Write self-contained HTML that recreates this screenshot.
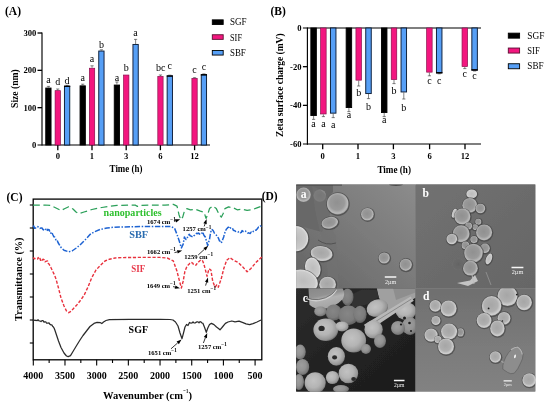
<!DOCTYPE html>
<html><head><meta charset="utf-8"><title>Figure</title>
<style>
html,body{margin:0;padding:0;background:#fff;}
body{width:550px;height:407px;overflow:hidden;font-family:"Liberation Serif",serif;}
svg{display:block;position:absolute;left:0;top:0;}
text{font-family:"Liberation Serif",serif;fill:#000;}
.b{font-weight:bold;}
</style></head><body>
<svg width="550" height="407" viewBox="0 0 550 407">
<rect x="0" y="0" width="550" height="407" fill="#fff"/>
<defs><filter id="gs" x="0" y="0" width="550" height="407" filterUnits="userSpaceOnUse"><feGaussianBlur stdDeviation="0.32"/></filter></defs>

<g id="panelA" filter="url(#gs)">
<text class="b" x="5" y="14.5" font-size="11.5">(A)</text>
<line x1="42.0" y1="32.5" x2="42.0" y2="145.6" stroke="#000" stroke-width="1.15"/>
<line x1="37.5" y1="145.0" x2="210" y2="145.0" stroke="#000" stroke-width="1.15"/>
<line x1="37.5" y1="107.67" x2="42.0" y2="107.67" stroke="#000" stroke-width="1.3"/>
<line x1="37.5" y1="70.34" x2="42.0" y2="70.34" stroke="#000" stroke-width="1.3"/>
<line x1="37.5" y1="33.01" x2="42.0" y2="33.01" stroke="#000" stroke-width="1.3"/>
<text class="b" x="36.3" y="147.90" font-size="8.6" text-anchor="end">0</text>
<text class="b" x="36.3" y="110.57" font-size="8.6" text-anchor="end">100</text>
<text class="b" x="36.3" y="73.24" font-size="8.6" text-anchor="end">200</text>
<text class="b" x="36.3" y="35.91" font-size="8.6" text-anchor="end">300</text>
<text class="b" font-size="9.6" text-anchor="middle" transform="translate(18.3,88.6) rotate(-90)">Size (nm)</text>
<line x1="57.8" y1="145.0" x2="57.8" y2="150.2" stroke="#000" stroke-width="1.3"/>
<text class="b" x="57.8" y="158.9" font-size="8.6" text-anchor="middle">0</text>
<line x1="92.0" y1="145.0" x2="92.0" y2="150.2" stroke="#000" stroke-width="1.3"/>
<text class="b" x="92.0" y="158.9" font-size="8.6" text-anchor="middle">1</text>
<line x1="126.2" y1="145.0" x2="126.2" y2="150.2" stroke="#000" stroke-width="1.3"/>
<text class="b" x="126.2" y="158.9" font-size="8.6" text-anchor="middle">3</text>
<line x1="160.4" y1="145.0" x2="160.4" y2="150.2" stroke="#000" stroke-width="1.3"/>
<text class="b" x="160.4" y="158.9" font-size="8.6" text-anchor="middle">6</text>
<line x1="194.6" y1="145.0" x2="194.6" y2="150.2" stroke="#000" stroke-width="1.3"/>
<text class="b" x="194.6" y="158.9" font-size="8.6" text-anchor="middle">12</text>
<text class="b" x="109.6" y="172.0" font-size="9.6" textLength="32.8" lengthAdjust="spacingAndGlyphs">Time (h)</text>
<rect x="45.75" y="88.05" width="5.30" height="56.95" fill="#000" stroke="#000" stroke-width="0.9"/>
<path d="M48.40 87.60V86.40M46.80 86.40H50.00" stroke="#333" stroke-width="0.6" fill="none"/>
<text x="48.40" y="83.30" font-size="10" text-anchor="middle">a</text>
<rect x="55.10" y="90.65" width="5.30" height="54.35" fill="#f3187f" stroke="#8a0e4c" stroke-width="0.7"/>
<path d="M57.75 90.20V89.00M56.15 89.00H59.35" stroke="#333" stroke-width="0.6" fill="none"/>
<text x="57.75" y="85.40" font-size="10" text-anchor="middle">d</text>
<rect x="64.45" y="86.35" width="5.30" height="58.65" fill="#579ff6" stroke="#0c1c36" stroke-width="0.95"/>
<path d="M67.10 85.90V85.30M65.50 85.30H68.70" stroke="#333" stroke-width="0.6" fill="none"/>
<rect x="64.00" y="85.60" width="6.20" height="1.4" fill="#000"/>
<text x="67.10" y="83.80" font-size="10" text-anchor="middle">d</text>
<rect x="80.05" y="85.85" width="5.30" height="59.15" fill="#000" stroke="#000" stroke-width="0.9"/>
<path d="M82.70 85.40V84.20M81.10 84.20H84.30" stroke="#333" stroke-width="0.6" fill="none"/>
<text x="82.70" y="81.00" font-size="10" text-anchor="middle">a</text>
<rect x="89.40" y="68.25" width="5.30" height="76.75" fill="#f3187f" stroke="#8a0e4c" stroke-width="0.7"/>
<path d="M92.05 67.80V65.80M90.45 65.80H93.65" stroke="#333" stroke-width="0.6" fill="none"/>
<text x="92.05" y="62.30" font-size="10" text-anchor="middle">a</text>
<rect x="98.75" y="51.05" width="5.30" height="93.95" fill="#579ff6" stroke="#0c1c36" stroke-width="0.95"/>
<path d="M101.40 50.60V49.80M99.80 49.80H103.00" stroke="#333" stroke-width="0.6" fill="none"/>
<text x="101.40" y="48.00" font-size="10" text-anchor="middle">b</text>
<rect x="114.25" y="85.05" width="5.30" height="59.95" fill="#000" stroke="#000" stroke-width="0.9"/>
<path d="M116.90 84.60V82.00M115.30 82.00H118.50" stroke="#333" stroke-width="0.6" fill="none"/>
<text x="116.90" y="80.60" font-size="10" text-anchor="middle">a</text>
<rect x="123.60" y="75.05" width="5.30" height="69.95" fill="#f3187f" stroke="#8a0e4c" stroke-width="0.7"/>
<text x="126.25" y="71.40" font-size="10" text-anchor="middle">b</text>
<rect x="132.95" y="44.45" width="5.30" height="100.55" fill="#579ff6" stroke="#0c1c36" stroke-width="0.95"/>
<path d="M135.60 44.00V39.40M134.00 39.40H137.20" stroke="#333" stroke-width="0.6" fill="none"/>
<text x="135.60" y="35.60" font-size="10" text-anchor="middle">a</text>
<rect x="157.80" y="76.45" width="5.30" height="68.55" fill="#f3187f" stroke="#8a0e4c" stroke-width="0.7"/>
<path d="M160.45 76.00V75.00M158.85 75.00H162.05" stroke="#333" stroke-width="0.6" fill="none"/>
<text x="160.65" y="70.60" font-size="10" text-anchor="middle">bc</text>
<rect x="167.15" y="76.05" width="5.30" height="68.95" fill="#579ff6" stroke="#0c1c36" stroke-width="0.95"/>
<path d="M169.80 75.60V75.20M168.20 75.20H171.40" stroke="#333" stroke-width="0.6" fill="none"/>
<rect x="166.70" y="75.30" width="6.20" height="1.4" fill="#000"/>
<text x="169.80" y="69.40" font-size="10" text-anchor="middle">c</text>
<rect x="191.90" y="78.45" width="5.30" height="66.55" fill="#f3187f" stroke="#8a0e4c" stroke-width="0.7"/>
<path d="M194.55 78.00V77.70M192.95 77.70H196.15" stroke="#333" stroke-width="0.6" fill="none"/>
<text x="194.55" y="73.00" font-size="10" text-anchor="middle">c</text>
<rect x="201.25" y="74.85" width="5.30" height="70.15" fill="#579ff6" stroke="#0c1c36" stroke-width="0.95"/>
<path d="M203.90 74.40V73.90M202.30 73.90H205.50" stroke="#333" stroke-width="0.6" fill="none"/>
<rect x="200.80" y="74.10" width="6.20" height="1.4" fill="#000"/>
<text x="203.90" y="70.00" font-size="10" text-anchor="middle">c</text>
<rect x="212.29999999999998" y="19.85" width="10.9" height="4.6" fill="#000" stroke="#000" stroke-width="0.9"/>
<text x="230" y="25.30" font-size="10.7" textLength="16.6" lengthAdjust="spacingAndGlyphs">SGF</text>
<rect x="212.29999999999998" y="34.75" width="10.9" height="4.6" fill="#f3187f" stroke="#5a0a30" stroke-width="0.9"/>
<text x="230" y="40.60" font-size="10.7" textLength="12.0" lengthAdjust="spacingAndGlyphs">SIF</text>
<rect x="212.29999999999998" y="50.45" width="10.9" height="4.6" fill="#579ff6" stroke="#000" stroke-width="0.9"/>
<text x="230" y="55.90" font-size="10.7" textLength="15.8" lengthAdjust="spacingAndGlyphs">SBF</text>
</g>
<g id="panelB" filter="url(#gs)">
<text class="b" x="270.5" y="14.5" font-size="11.5">(B)</text>
<line x1="307.4" y1="27.4" x2="307.4" y2="144.64" stroke="#000" stroke-width="1.15"/>
<line x1="302.9" y1="28.0" x2="481" y2="28.0" stroke="#000" stroke-width="1.15"/>
<line x1="302.9" y1="144.04" x2="481" y2="144.04" stroke="#000" stroke-width="1.15"/>
<line x1="302.9" y1="66.68" x2="307.4" y2="66.68" stroke="#000" stroke-width="1.3"/>
<line x1="302.9" y1="105.36" x2="307.4" y2="105.36" stroke="#000" stroke-width="1.3"/>
<text class="b" x="301.5" y="30.90" font-size="8.6" text-anchor="end">0</text>
<text class="b" x="301.5" y="69.58" font-size="8.6" text-anchor="end">-20</text>
<text class="b" x="301.5" y="108.26" font-size="8.6" text-anchor="end">-40</text>
<text class="b" x="301.5" y="146.94" font-size="8.6" text-anchor="end">-60</text>
<text class="b" font-size="9.5" text-anchor="middle" transform="translate(283.3,85.2) rotate(-90)" textLength="103.5" lengthAdjust="spacingAndGlyphs">Zeta surface charge (mV)</text>
<line x1="322.7" y1="144.04" x2="322.7" y2="149.23999999999998" stroke="#000" stroke-width="1.3"/>
<text class="b" x="322.7" y="158.9" font-size="8.6" text-anchor="middle">0</text>
<line x1="358.0" y1="144.04" x2="358.0" y2="149.23999999999998" stroke="#000" stroke-width="1.3"/>
<text class="b" x="358.0" y="158.9" font-size="8.6" text-anchor="middle">1</text>
<line x1="393.4" y1="144.04" x2="393.4" y2="149.23999999999998" stroke="#000" stroke-width="1.3"/>
<text class="b" x="393.4" y="158.9" font-size="8.6" text-anchor="middle">3</text>
<line x1="429.6" y1="144.04" x2="429.6" y2="149.23999999999998" stroke="#000" stroke-width="1.3"/>
<text class="b" x="429.6" y="158.9" font-size="8.6" text-anchor="middle">6</text>
<line x1="465.0" y1="144.04" x2="465.0" y2="149.23999999999998" stroke="#000" stroke-width="1.3"/>
<text class="b" x="465.0" y="158.9" font-size="8.6" text-anchor="middle">12</text>
<text class="b" x="377.4" y="172.8" font-size="9.6" textLength="33.6" lengthAdjust="spacingAndGlyphs">Time (h)</text>
<rect x="310.85" y="28.00" width="5.50" height="87.55" fill="#000" stroke="#000" stroke-width="0.9"/>
<path d="M313.60 116.00V119.40M312.00 119.40H315.20" stroke="#333" stroke-width="0.6" fill="none"/>
<text x="313.60" y="127.00" font-size="10" text-anchor="middle">a</text>
<rect x="320.65" y="28.00" width="5.50" height="85.95" fill="#f3187f" stroke="#8a0e4c" stroke-width="0.7"/>
<path d="M323.40 114.40V116.60M321.80 116.60H325.00" stroke="#333" stroke-width="0.6" fill="none"/>
<text x="323.40" y="127.00" font-size="10" text-anchor="middle">a</text>
<rect x="330.45" y="28.00" width="5.50" height="85.15" fill="#579ff6" stroke="#0c1c36" stroke-width="0.95"/>
<path d="M333.20 113.60V117.60M331.60 117.60H334.80" stroke="#333" stroke-width="0.6" fill="none"/>
<text x="333.20" y="128.00" font-size="10" text-anchor="middle">a</text>
<rect x="346.15" y="28.00" width="5.50" height="79.55" fill="#000" stroke="#000" stroke-width="0.9"/>
<path d="M348.90 108.00V111.60M347.30 111.60H350.50" stroke="#333" stroke-width="0.6" fill="none"/>
<text x="348.90" y="118.40" font-size="10" text-anchor="middle">a</text>
<rect x="355.95" y="28.00" width="5.50" height="52.15" fill="#f3187f" stroke="#8a0e4c" stroke-width="0.7"/>
<path d="M358.70 80.60V86.00M357.10 86.00H360.30" stroke="#333" stroke-width="0.6" fill="none"/>
<text x="358.70" y="95.60" font-size="10" text-anchor="middle">b</text>
<rect x="365.75" y="28.00" width="5.50" height="65.55" fill="#579ff6" stroke="#0c1c36" stroke-width="0.95"/>
<path d="M368.50 94.00V98.60M366.90 98.60H370.10" stroke="#333" stroke-width="0.6" fill="none"/>
<text x="368.50" y="109.60" font-size="10" text-anchor="middle">b</text>
<rect x="381.45" y="28.00" width="5.50" height="84.55" fill="#000" stroke="#000" stroke-width="0.9"/>
<path d="M384.20 113.00V116.60M382.60 116.60H385.80" stroke="#333" stroke-width="0.6" fill="none"/>
<text x="384.20" y="123.00" font-size="10" text-anchor="middle">a</text>
<rect x="391.25" y="28.00" width="5.50" height="51.55" fill="#f3187f" stroke="#8a0e4c" stroke-width="0.7"/>
<path d="M394.00 80.00V83.60M392.40 83.60H395.60" stroke="#333" stroke-width="0.6" fill="none"/>
<text x="394.00" y="93.60" font-size="10" text-anchor="middle">b</text>
<rect x="401.05" y="28.00" width="5.50" height="63.95" fill="#579ff6" stroke="#0c1c36" stroke-width="0.95"/>
<path d="M403.80 92.40V99.00M402.20 99.00H405.40" stroke="#333" stroke-width="0.6" fill="none"/>
<text x="403.80" y="111.00" font-size="10" text-anchor="middle">b</text>
<rect x="426.65" y="28.00" width="5.50" height="44.15" fill="#f3187f" stroke="#8a0e4c" stroke-width="0.7"/>
<path d="M429.40 72.60V75.80M427.80 75.80H431.00" stroke="#333" stroke-width="0.6" fill="none"/>
<text x="429.40" y="83.50" font-size="10" text-anchor="middle">c</text>
<rect x="436.45" y="28.00" width="5.50" height="44.75" fill="#579ff6" stroke="#0c1c36" stroke-width="0.95"/>
<path d="M439.20 73.20V73.80M437.60 73.80H440.80" stroke="#333" stroke-width="0.6" fill="none"/>
<rect x="436.00" y="72.00" width="6.40" height="1.5" fill="#000"/>
<text x="439.20" y="83.50" font-size="10" text-anchor="middle">c</text>
<rect x="462.05" y="28.00" width="5.50" height="38.55" fill="#f3187f" stroke="#8a0e4c" stroke-width="0.7"/>
<path d="M464.80 67.00V68.60M463.20 68.60H466.40" stroke="#333" stroke-width="0.6" fill="none"/>
<text x="464.80" y="77.20" font-size="10" text-anchor="middle">c</text>
<rect x="471.85" y="28.00" width="5.50" height="41.95" fill="#579ff6" stroke="#0c1c36" stroke-width="0.95"/>
<path d="M474.60 70.40V71.00M473.00 71.00H476.20" stroke="#333" stroke-width="0.6" fill="none"/>
<rect x="471.40" y="69.20" width="6.40" height="1.5" fill="#000"/>
<text x="474.60" y="78.90" font-size="10" text-anchor="middle">c</text>
<rect x="508.3" y="33.15" width="11.3" height="5.0" fill="#000" stroke="#000" stroke-width="0.9"/>
<text x="527.3" y="38.60" font-size="10.7" textLength="17.1" lengthAdjust="spacingAndGlyphs">SGF</text>
<rect x="508.3" y="48.05" width="11.3" height="5.0" fill="#f3187f" stroke="#5a0a30" stroke-width="0.9"/>
<text x="527.3" y="53.90" font-size="10.7" textLength="12.4" lengthAdjust="spacingAndGlyphs">SIF</text>
<rect x="508.3" y="63.75" width="11.3" height="5.0" fill="#579ff6" stroke="#000" stroke-width="0.9"/>
<text x="527.3" y="69.20" font-size="10.7" textLength="16.3" lengthAdjust="spacingAndGlyphs">SBF</text>
</g>
<g id="panelC" filter="url(#gs)">
<text class="b" x="6.5" y="201.3" font-size="11.5">(C)</text>
<rect x="33.2" y="199.1" width="228.60000000000002" height="160.70000000000002" fill="none" stroke="#000" stroke-width="1.3"/>
<line x1="29.800000000000004" y1="205" x2="33.2" y2="205" stroke="#000" stroke-width="1.1"/>
<line x1="29.800000000000004" y1="228" x2="33.2" y2="228" stroke="#000" stroke-width="1.1"/>
<line x1="29.800000000000004" y1="251" x2="33.2" y2="251" stroke="#000" stroke-width="1.1"/>
<line x1="29.800000000000004" y1="274" x2="33.2" y2="274" stroke="#000" stroke-width="1.1"/>
<line x1="29.800000000000004" y1="297" x2="33.2" y2="297" stroke="#000" stroke-width="1.1"/>
<line x1="29.800000000000004" y1="320" x2="33.2" y2="320" stroke="#000" stroke-width="1.1"/>
<line x1="29.800000000000004" y1="343" x2="33.2" y2="343" stroke="#000" stroke-width="1.1"/>
<line x1="33.30" y1="359.8" x2="33.30" y2="365.40000000000003" stroke="#000" stroke-width="1.1"/>
<text class="b" x="33.30" y="379.2" font-size="10" text-anchor="middle">4000</text>
<line x1="49.14" y1="359.8" x2="49.14" y2="363.0" stroke="#000" stroke-width="1.1"/>
<line x1="64.98" y1="359.8" x2="64.98" y2="365.40000000000003" stroke="#000" stroke-width="1.1"/>
<text class="b" x="64.98" y="379.2" font-size="10" text-anchor="middle">3500</text>
<line x1="80.83" y1="359.8" x2="80.83" y2="363.0" stroke="#000" stroke-width="1.1"/>
<line x1="96.67" y1="359.8" x2="96.67" y2="365.40000000000003" stroke="#000" stroke-width="1.1"/>
<text class="b" x="96.67" y="379.2" font-size="10" text-anchor="middle">3000</text>
<line x1="112.51" y1="359.8" x2="112.51" y2="363.0" stroke="#000" stroke-width="1.1"/>
<line x1="128.35" y1="359.8" x2="128.35" y2="365.40000000000003" stroke="#000" stroke-width="1.1"/>
<text class="b" x="128.35" y="379.2" font-size="10" text-anchor="middle">2500</text>
<line x1="144.20" y1="359.8" x2="144.20" y2="363.0" stroke="#000" stroke-width="1.1"/>
<line x1="160.04" y1="359.8" x2="160.04" y2="365.40000000000003" stroke="#000" stroke-width="1.1"/>
<text class="b" x="160.04" y="379.2" font-size="10" text-anchor="middle">2000</text>
<line x1="175.88" y1="359.8" x2="175.88" y2="363.0" stroke="#000" stroke-width="1.1"/>
<line x1="191.72" y1="359.8" x2="191.72" y2="365.40000000000003" stroke="#000" stroke-width="1.1"/>
<text class="b" x="191.72" y="379.2" font-size="10" text-anchor="middle">1500</text>
<line x1="207.57" y1="359.8" x2="207.57" y2="363.0" stroke="#000" stroke-width="1.1"/>
<line x1="223.41" y1="359.8" x2="223.41" y2="365.40000000000003" stroke="#000" stroke-width="1.1"/>
<text class="b" x="223.41" y="379.2" font-size="10" text-anchor="middle">1000</text>
<line x1="239.25" y1="359.8" x2="239.25" y2="363.0" stroke="#000" stroke-width="1.1"/>
<line x1="255.09" y1="359.8" x2="255.09" y2="365.40000000000003" stroke="#000" stroke-width="1.1"/>
<text class="b" x="255.09" y="379.2" font-size="10" text-anchor="middle">500</text>
<text class="b" font-size="10.6" text-anchor="middle" transform="translate(22.1,279.2) rotate(-90)" textLength="83.4" lengthAdjust="spacingAndGlyphs">Transmittance (%)</text>
<text class="b" x="103" y="398.9" font-size="10.6" textLength="80" lengthAdjust="spacingAndGlyphs">Wavenumber (cm</text>
<text class="b" x="183.3" y="392.6" font-size="6.6" textLength="5" lengthAdjust="spacingAndGlyphs">−1</text>
<text class="b" x="188.6" y="398.9" font-size="10.6">)</text>
<path d="M33.0 205.0 L45.0 205.0 L51.0 205.4 L56.0 208.0 L61.0 210.5 L65.0 208.5 L68.7 206.7 L73.0 209.0 L76.0 212.0 L79.0 213.6 L84.0 212.0 L92.0 209.5 L101.8 207.5 L110.0 206.2 L117.0 205.4 L135.0 205.0 L137.4 206.4 L140.0 205.4 L150.0 205.2 L165.0 205.2 L173.3 204.4 L177.0 206.1 L179.0 214.7 L180.7 219.7 L182.7 217.2 L184.4 211.1 L186.9 208.6 L190.5 209.8 L195.5 209.3 L200.4 211.1 L204.1 212.3 L206.0 218.4 L207.7 214.7 L209.5 208.6 L212.7 206.1 L216.3 208.6 L219.3 214.7 L221.3 217.2 L223.2 213.5 L224.9 208.6 L228.6 206.9 L233.5 207.9 L237.2 209.8 L242.1 209.3 L247.1 210.3 L252.0 209.8 L256.9 207.9 L261.8 206.1" fill="none" stroke="#2a9f58" stroke-width="1.25" stroke-linejoin="round" stroke-dasharray="6.8 3.6"/>
<path d="M33.0 227.0 L33.8 226.1 L34.5 228.3 L35.2 228.2 L36.0 227.6 L37.0 226.5 L38.0 226.8 L39.0 227.6 L40.0 228.4 L41.0 228.0 L42.0 228.0 L43.0 229.5 L44.0 230.0 L44.9 230.5 L45.8 229.2 L47.0 231.0 L47.8 229.3 L48.5 230.0 L49.2 229.8 L50.0 232.5 L50.8 233.3 L51.5 232.0 L52.2 233.3 L53.0 235.0 L53.9 236.8 L54.7 237.0 L56.0 240.0 L57.0 239.8 L58.0 242.5 L61.0 247.4 L64.0 250.2 L68.7 251.8 L72.0 251.0 L76.3 248.0 L80.0 245.0 L83.0 242.0 L86.5 238.5 L90.0 234.5 L94.0 232.0 L100.0 229.5 L107.0 228.0 L113.0 227.3 L119.6 227.0 L140.0 226.6 L160.0 226.6 L170.9 226.5 L174.6 228.3 L177.0 234.4 L179.5 241.8 L181.4 247.9 L183.2 244.2 L184.4 236.9 L185.2 238.6 L186.1 239.4 L186.9 239.3 L187.7 236.8 L188.5 235.2 L189.3 234.4 L190.2 235.7 L191.2 236.1 L192.1 236.6 L193.0 236.9 L193.9 235.6 L194.8 235.3 L195.8 234.3 L196.7 233.2 L197.6 233.7 L198.6 233.1 L199.5 234.0 L200.4 234.4 L201.2 233.4 L202.0 233.2 L202.8 231.9 L203.6 234.6 L204.5 236.1 L205.3 236.9 L206.5 241.3 L207.7 245.5 L208.6 242.3 L209.5 239.3 L210.4 233.9 L211.4 229.5 L212.4 229.8 L213.4 231.0 L214.4 233.2 L215.5 234.4 L216.5 235.3 L217.6 236.9 L218.5 238.2 L219.4 240.7 L220.4 241.5 L221.3 243.0 L222.5 240.1 L223.7 236.9 L224.5 233.9 L225.4 231.0 L226.2 229.5 L227.1 228.4 L228.1 227.3 L229.0 227.3 L229.9 226.5 L230.7 228.2 L231.5 228.2 L232.4 228.0 L233.2 230.1 L234.0 230.6 L234.8 230.7 L235.6 231.4 L236.4 231.9 L237.2 231.8 L238.1 232.1 L238.9 231.4 L239.7 231.9 L240.5 232.7 L241.3 232.4 L242.1 230.6 L243.0 231.6 L243.8 231.3 L244.6 230.7 L245.4 231.0 L246.2 231.6 L247.1 231.9 L247.9 233.2 L248.7 232.8 L249.5 233.2 L250.3 233.4 L251.1 232.1 L251.9 232.7 L252.8 232.3 L253.6 231.0 L254.4 230.7 L255.2 230.2 L256.0 230.3 L256.9 229.3 L257.7 228.2 L258.5 227.1 L259.3 227.0 L260.1 226.0 L261.0 226.1 L261.8 225.1" fill="none" stroke="#1f63d2" stroke-width="1.5" stroke-linejoin="round" stroke-dasharray="5.4 1.6 1.5 1.6"/>
<path d="M33.0 258.4 L33.8 257.9 L34.5 258.8 L35.2 258.5 L36.0 259.0 L36.8 259.2 L37.5 259.1 L38.2 257.6 L39.0 258.6 L39.8 257.7 L40.5 260.3 L41.2 259.2 L42.0 260.2 L43.0 259.2 L44.0 259.6 L44.9 261.8 L45.8 261.4 L46.6 261.1 L47.5 261.0 L48.2 263.4 L49.0 264.0 L50.0 265.8 L51.0 267.8 L53.0 272.0 L54.5 275.0 L56.0 279.0 L58.5 288.0 L61.0 298.0 L64.0 306.0 L66.5 311.0 L68.7 312.7 L71.0 311.4 L73.5 308.5 L76.3 305.6 L80.0 301.0 L84.0 295.4 L88.0 287.0 L91.6 278.0 L96.0 270.0 L101.8 264.0 L105.0 261.0 L109.4 259.2 L115.0 258.0 L122.0 257.6 L140.0 257.4 L160.0 257.4 L167.2 258.0 L173.3 260.9 L177.0 271.3 L179.5 281.1 L181.4 288.0 L183.2 281.1 L184.9 271.3 L186.0 268.7 L187.0 266.3 L188.1 265.1 L189.0 264.3 L189.9 263.1 L190.9 262.3 L191.8 262.7 L192.7 263.1 L193.7 264.8 L194.6 265.2 L195.5 265.1 L196.4 264.8 L197.3 262.6 L198.2 262.4 L199.1 261.4 L200.1 260.5 L201.1 259.9 L202.1 260.2 L202.9 261.4 L203.7 263.6 L204.5 266.3 L207.0 276.2 L209.0 268.8 L210.9 270.0 L212.7 281.1 L215.1 287.2 L216.8 284.8 L218.3 287.2 L221.3 278.6 L223.7 268.8 L226.7 260.2 L229.9 257.7 L233.5 260.2 L238.5 262.7 L243.4 267.6 L247.1 271.7 L250.7 268.8 L255.7 262.7 L261.8 257.0" fill="none" stroke="#e8303c" stroke-width="1.4" stroke-linejoin="round" stroke-dasharray="3.2 1.7"/>
<path d="M33.0 319.6 L33.8 319.9 L34.5 320.3 L35.2 320.5 L36.0 320.2 L37.0 320.7 L38.0 319.8 L39.0 320.8 L40.0 321.0 L41.0 321.5 L42.0 320.6 L43.0 320.6 L44.0 322.2 L44.9 321.9 L45.8 321.8 L46.6 323.2 L47.5 323.2 L48.2 323.2 L49.0 322.8 L50.0 324.4 L51.0 324.8 L51.8 324.9 L52.6 326.2 L53.4 327.0 L54.2 328.3 L55.0 330.5 L56.5 335.0 L58.5 341.0 L61.0 347.5 L64.0 353.0 L66.5 356.0 L68.2 356.6 L70.5 355.6 L73.0 351.5 L76.3 346.0 L80.0 340.0 L83.0 335.5 L86.5 331.0 L90.0 326.5 L94.0 323.4 L97.0 322.4 L100.5 322.7 L101.8 323.6 L103.5 322.0 L106.0 320.5 L109.4 319.6 L130.0 319.4 L160.0 319.4 L170.0 319.5 L173.0 320.0 L175.5 322.0 L178.0 326.0 L180.0 333.0 L182.0 338.7 L183.5 333.0 L185.0 327.0 L186.5 324.5 L188.0 325.5 L189.5 322.5 L191.0 323.2 L192.0 323.0 L193.0 321.8 L194.0 322.9 L195.0 323.0 L196.0 322.4 L197.0 321.8 L198.0 321.9 L199.0 322.8 L200.0 321.6 L201.0 322.0 L202.0 323.0 L203.0 323.4 L204.6 327.5 L206.3 332.3 L207.8 328.0 L209.5 324.5 L211.4 323.4 L214.0 324.6 L216.5 327.0 L218.5 328.5 L220.0 329.8 L222.0 327.5 L225.4 323.4 L228.0 322.0 L231.8 321.0 L235.0 321.8 L239.0 321.2 L243.0 322.6 L246.0 323.8 L249.6 324.7 L253.0 323.6 L257.0 322.0 L260.0 320.5 L261.8 319.9" fill="none" stroke="#2c2c2c" stroke-width="1.25" stroke-linejoin="round"/>
<text class="b" x="103.6" y="215.7" font-size="10.2" style="fill:#2fc02f" textLength="58" lengthAdjust="spacingAndGlyphs">nanoparticles</text>
<text class="b" x="129.2" y="238.2" font-size="10.8" style="fill:#2b6cb0" textLength="19" lengthAdjust="spacingAndGlyphs">SBF</text>
<text class="b" x="131.2" y="272.0" font-size="10.8" style="fill:#e8394a" textLength="14" lengthAdjust="spacingAndGlyphs">SIF</text>
<text class="b" x="128.6" y="333.0" font-size="10.8" textLength="19.4" lengthAdjust="spacingAndGlyphs">SGF</text>
<text class="b" x="147.0" y="223.6" font-size="6.6">1674 cm<tspan dy="-2.6" font-size="5.2">−1</tspan></text>
<line x1="174.0" y1="221.4" x2="175.5" y2="220.9" stroke="#000" stroke-width="0.8"/>
<path d="M180.2 219.2L176.1 222.5L174.9 219.3Z" fill="#000"/>
<text class="b" x="182.6" y="231.4" font-size="6.6">1257 cm<tspan dy="-2.6" font-size="5.2">−1</tspan></text>
<line x1="204.2" y1="226.4" x2="205.1" y2="223.8" stroke="#000" stroke-width="0.8"/>
<path d="M206.6 219.0L206.7 224.3L203.4 223.2Z" fill="#000"/>
<text class="b" x="147.0" y="254.0" font-size="6.6">1662 cm<tspan dy="-2.6" font-size="5.2">−1</tspan></text>
<line x1="174.5" y1="252.6" x2="177.4" y2="251.9" stroke="#000" stroke-width="0.8"/>
<path d="M182.2 250.6L177.8 253.5L176.9 250.2Z" fill="#000"/>
<text class="b" x="184.3" y="259.0" font-size="6.6">1259 cm<tspan dy="-2.6" font-size="5.2">−1</tspan></text>
<line x1="198.2" y1="255.0" x2="204.5" y2="249.2" stroke="#000" stroke-width="0.8"/>
<path d="M208.2 245.8L205.7 250.4L203.4 247.9Z" fill="#000"/>
<text class="b" x="146.8" y="287.6" font-size="6.6">1649 cm<tspan dy="-2.6" font-size="5.2">−1</tspan></text>
<line x1="173.0" y1="286.6" x2="175.1" y2="287.1" stroke="#000" stroke-width="0.8"/>
<path d="M180.0 288.2L174.7 288.7L175.5 285.4Z" fill="#000"/>
<text class="b" x="187.2" y="292.6" font-size="6.6">1251 cm<tspan dy="-2.6" font-size="5.2">−1</tspan></text>
<line x1="205.6" y1="285.6" x2="206.6" y2="282.2" stroke="#000" stroke-width="0.8"/>
<path d="M208.0 277.4L208.2 282.7L205.0 281.7Z" fill="#000"/>
<text class="b" x="148.0" y="354.6" font-size="6.6">1651 cm<tspan dy="-2.6" font-size="5.2">−1</tspan></text>
<line x1="171.0" y1="348.8" x2="177.7" y2="342.9" stroke="#000" stroke-width="0.8"/>
<path d="M181.5 339.6L178.9 344.2L176.6 341.6Z" fill="#000"/>
<text class="b" x="198.0" y="348.5" font-size="6.6">1257 cm<tspan dy="-2.6" font-size="5.2">−1</tspan></text>
<line x1="203.4" y1="343.0" x2="205.4" y2="337.7" stroke="#000" stroke-width="0.8"/>
<path d="M207.2 333.0L207.0 338.3L203.8 337.1Z" fill="#000"/>
</g>
<g id="panelD" filter="url(#gs)">
<text class="b" x="261.7" y="199.5" font-size="11.5">(D)</text>
<defs>
<radialGradient id="sL" cx="0.47" cy="0.45" r="0.57"><stop offset="0" stop-color="#a6a6a6"/><stop offset="0.6" stop-color="#b0b0b0"/><stop offset="0.86" stop-color="#cfcfcf"/><stop offset="1" stop-color="#b2b2b2"/></radialGradient>
<radialGradient id="sM" cx="0.47" cy="0.45" r="0.57"><stop offset="0" stop-color="#909090"/><stop offset="0.6" stop-color="#9a9a9a"/><stop offset="0.86" stop-color="#bababa"/><stop offset="1" stop-color="#989898"/></radialGradient>
<radialGradient id="sB" cx="0.5" cy="0.5" r="0.57"><stop offset="0" stop-color="#bcbcbc"/><stop offset="0.7" stop-color="#cacaca"/><stop offset="0.92" stop-color="#e6e6e6"/><stop offset="1" stop-color="#c8c8c8"/></radialGradient>
<radialGradient id="sD" cx="0.5" cy="0.5" r="0.57"><stop offset="0" stop-color="#646464"/><stop offset="0.8" stop-color="#6a6a6a"/><stop offset="1" stop-color="#787878"/></radialGradient>
<radialGradient id="sG" cx="0.5" cy="0.5" r="0.57"><stop offset="0" stop-color="#7e7e7e"/><stop offset="0.8" stop-color="#8a8a8a"/><stop offset="1" stop-color="#9c9c9c"/></radialGradient>
<radialGradient id="cL" cx="0.42" cy="0.4" r="0.66"><stop offset="0" stop-color="#c2c2c2"/><stop offset="0.5" stop-color="#b4b4b4"/><stop offset="0.82" stop-color="#969696"/><stop offset="1" stop-color="#606060"/></radialGradient>
<radialGradient id="cM" cx="0.42" cy="0.4" r="0.66"><stop offset="0" stop-color="#9e9e9e"/><stop offset="0.5" stop-color="#939393"/><stop offset="0.82" stop-color="#7a7a7a"/><stop offset="1" stop-color="#505050"/></radialGradient>
<radialGradient id="cG" cx="0.45" cy="0.42" r="0.66"><stop offset="0" stop-color="#868686"/><stop offset="0.6" stop-color="#7c7c7c"/><stop offset="1" stop-color="#555"/></radialGradient>
<linearGradient id="swg" x1="0" y1="0" x2="0.35" y2="1"><stop offset="0" stop-color="#868686"/><stop offset="0.45" stop-color="#929292"/><stop offset="0.62" stop-color="#b2b2b2"/><stop offset="1" stop-color="#a4a4a4"/></linearGradient>
<linearGradient id="bgC" x1="0" y1="0" x2="1" y2="1"><stop offset="0" stop-color="#2e2e2e"/><stop offset="0.5" stop-color="#222222"/><stop offset="1" stop-color="#1b1b1b"/></linearGradient>
<linearGradient id="rodg" gradientUnits="userSpaceOnUse" x1="386" y1="306" x2="391" y2="313"><stop offset="0" stop-color="#b8b8b8"/><stop offset="0.55" stop-color="#a2a2a2"/><stop offset="1" stop-color="#666"/></linearGradient>
<linearGradient id="bgA" x1="0" y1="1" x2="1" y2="0"><stop offset="0" stop-color="#5e5e5e"/><stop offset="0.3" stop-color="#707070"/><stop offset="0.55" stop-color="#7b7b7b"/><stop offset="0.8" stop-color="#858585"/><stop offset="1" stop-color="#8e8e8e"/></linearGradient>
<linearGradient id="bgB" x1="0" y1="0" x2="1" y2="1"><stop offset="0" stop-color="#727272"/><stop offset="1" stop-color="#656565"/></linearGradient>
<linearGradient id="bgD" x1="0" y1="0" x2="0" y2="1"><stop offset="0" stop-color="#6e6e6e"/><stop offset="0.5" stop-color="#7a7a7a"/><stop offset="1" stop-color="#838383"/></linearGradient>
<clipPath id="cA"><rect x="296.2" y="184.5" width="119.40000000000003" height="104.0"/></clipPath>
<clipPath id="cB"><rect x="415.6" y="184.5" width="119.69999999999993" height="104.0"/></clipPath>
<clipPath id="cC"><rect x="296.2" y="288.5" width="119.40000000000003" height="103.10000000000002"/></clipPath>
<clipPath id="cD"><rect x="415.6" y="288.5" width="119.69999999999993" height="103.10000000000002"/></clipPath>
<filter id="soft" x="-5%" y="-5%" width="110%" height="110%"><feGaussianBlur stdDeviation="0.5"/></filter>
<filter id="soft2" x="-10%" y="-10%" width="120%" height="120%"><feGaussianBlur stdDeviation="1.2"/></filter>
</defs>
<g clip-path="url(#cA)">
<rect x="295.2" y="183.5" width="121.40000000000003" height="106.0" fill="#7a7a7a"/>
<g filter="url(#soft)">
<rect x="290" y="180" width="132" height="114" fill="url(#bgA)"/>
<path d="M290 180H333V192L326 200L330 214L322 232L300 226L290 228Z" fill="#676767"/>
<rect x="290" y="180" width="52" height="5.6" fill="#4a4a4a"/>
<ellipse cx="396" cy="184.4" rx="7" ry="1.6" fill="#4a4a4a"/>
<ellipse cx="319.8" cy="195.6" rx="6.2" ry="6.2" fill="url(#sG)"/>
<ellipse cx="303.6" cy="194.8" rx="7.2" ry="7.2" fill="url(#sM)"/>
<path d="M312 186Q326 190 331 205Q327 222 336 236L339 292H328Q328 250 320 232Q314 210 312 186Z" fill="#727272" opacity="0.6"/>
<path d="M318 240Q326 246 336 243" stroke="#4e4e4e" stroke-width="0.9" fill="none"/>
<ellipse cx="338.0" cy="204.1" rx="11.8" ry="11.8" fill="#3c3c3c" opacity="0.6"/>
<ellipse cx="337.7" cy="203.7" rx="10.8" ry="10.8" fill="url(#sM)"/>
<ellipse cx="367.7" cy="214.7" rx="7.3" ry="7.3" fill="#3c3c3c" opacity="0.6"/>
<ellipse cx="367.4" cy="214.3" rx="6.3" ry="6.3" fill="url(#sM)"/>
<ellipse cx="330.1" cy="223.2" rx="9.4" ry="6.8" fill="#3c3c3c" opacity="0.6" transform="rotate(-12 329.8 222.8)"/>
<ellipse cx="329.8" cy="222.8" rx="8.4" ry="5.8" fill="url(#sM)" transform="rotate(-12 329.8 222.8)"/>
<ellipse cx="296.5" cy="239.0" rx="13.0" ry="13.6" fill="#3c3c3c" opacity="0.6"/>
<ellipse cx="296.2" cy="238.6" rx="12.0" ry="12.6" fill="url(#sB)"/>
<ellipse cx="321.9" cy="254.0" rx="12.0" ry="8.4" fill="#3c3c3c" opacity="0.6" transform="rotate(8 321.6 253.6)"/>
<ellipse cx="321.6" cy="253.6" rx="11.0" ry="7.4" fill="url(#sL)" transform="rotate(8 321.6 253.6)"/>
<ellipse cx="313.1" cy="268.4" rx="8.6" ry="11.6" fill="#3c3c3c" opacity="0.6" transform="rotate(-14 312.8 268.0)"/>
<ellipse cx="312.8" cy="268.0" rx="7.6" ry="10.6" fill="url(#sB)" transform="rotate(-14 312.8 268.0)"/>
<ellipse cx="303.5" cy="281.4" rx="16.0" ry="12.0" fill="#3c3c3c" opacity="0.6" transform="rotate(20 303.2 281.0)"/>
<ellipse cx="303.2" cy="281.0" rx="15.0" ry="11.0" fill="url(#sB)" transform="rotate(20 303.2 281.0)"/>
<ellipse cx="327.9" cy="284.8" rx="9.4" ry="8.6" fill="#3c3c3c" opacity="0.6"/>
<ellipse cx="327.6" cy="284.4" rx="8.4" ry="7.6" fill="url(#sL)"/>
<ellipse cx="384.5" cy="258.4" rx="6.6" ry="6.6" fill="#3c3c3c" opacity="0.6"/>
<ellipse cx="384.2" cy="258.0" rx="5.6" ry="5.6" fill="url(#sM)"/>
<ellipse cx="406.1" cy="265.2" rx="7.1" ry="7.1" fill="#3c3c3c" opacity="0.6"/>
<ellipse cx="405.8" cy="264.8" rx="6.1" ry="6.1" fill="url(#sM)"/>
</g>
<line x1="384.8" y1="277.0" x2="396.3" y2="277.0" stroke="#f6f6f6" stroke-width="1.5"/>
<text x="390.6" y="283.8" font-size="6.4" text-anchor="middle" style="fill:#f2f2f2" textLength="11.2" lengthAdjust="spacingAndGlyphs">2µm</text>
<text class="b" x="300.8" y="198.4" font-size="11.6" style="fill:#fff">a</text>
</g>
<g clip-path="url(#cB)">
<rect x="414.6" y="183.5" width="121.69999999999993" height="106.0" fill="#6c6c6c"/>
<g filter="url(#soft)">
<rect x="410" y="180" width="132" height="114" fill="url(#bgB)"/>
<ellipse cx="458.4" cy="264.2" rx="5.8" ry="5.8" fill="url(#sD)"/>
<ellipse cx="472.0" cy="194.3" rx="6.3" ry="5.5" fill="#3c3c3c" opacity="0.6"/>
<ellipse cx="471.7" cy="193.9" rx="5.3" ry="4.5" fill="url(#sB)"/>
<ellipse cx="470.1" cy="205.7" rx="8.4" ry="8.4" fill="#3c3c3c" opacity="0.6"/>
<ellipse cx="469.8" cy="205.3" rx="7.4" ry="7.4" fill="url(#sM)"/>
<ellipse cx="480.7" cy="208.9" rx="5.8" ry="5.8" fill="#3c3c3c" opacity="0.6"/>
<ellipse cx="480.4" cy="208.5" rx="4.8" ry="4.8" fill="url(#sM)"/>
<ellipse cx="454.7" cy="213.7" rx="3.2" ry="5.6" fill="#3c3c3c" opacity="0.6" transform="rotate(20 454.4 213.3)"/>
<ellipse cx="454.4" cy="213.3" rx="2.2" ry="4.6" fill="url(#sB)" transform="rotate(20 454.4 213.3)"/>
<ellipse cx="462.7" cy="216.9" rx="9.0" ry="9.0" fill="#3c3c3c" opacity="0.6"/>
<ellipse cx="462.4" cy="216.5" rx="8.0" ry="8.0" fill="url(#sM)"/>
<ellipse cx="478.6" cy="222.2" rx="4.0" ry="4.0" fill="#3c3c3c" opacity="0.6"/>
<ellipse cx="478.3" cy="221.8" rx="3.0" ry="3.0" fill="url(#sM)"/>
<ellipse cx="475.4" cy="227.5" rx="3.8" ry="3.8" fill="#3c3c3c" opacity="0.6"/>
<ellipse cx="475.1" cy="227.1" rx="2.8" ry="2.8" fill="url(#sM)"/>
<ellipse cx="468.9" cy="226.4" rx="4.4" ry="4.4" fill="#3c3c3c" opacity="0.6"/>
<ellipse cx="468.6" cy="226.0" rx="3.4" ry="3.4" fill="url(#sM)"/>
<ellipse cx="461.4" cy="234.1" rx="9.5" ry="9.5" fill="#3c3c3c" opacity="0.6"/>
<ellipse cx="461.1" cy="233.7" rx="8.5" ry="8.5" fill="url(#sM)"/>
<ellipse cx="484.4" cy="232.8" rx="9.0" ry="9.0" fill="#3c3c3c" opacity="0.6"/>
<ellipse cx="484.1" cy="232.4" rx="8.0" ry="8.0" fill="url(#sM)"/>
<ellipse cx="452.1" cy="239.4" rx="6.3" ry="6.3" fill="#3c3c3c" opacity="0.6"/>
<ellipse cx="451.8" cy="239.0" rx="5.3" ry="5.3" fill="url(#sL)"/>
<ellipse cx="474.3" cy="239.9" rx="4.6" ry="4.6" fill="#3c3c3c" opacity="0.6"/>
<ellipse cx="474.0" cy="239.5" rx="3.6" ry="3.6" fill="url(#sM)"/>
<ellipse cx="465.8" cy="245.8" rx="4.8" ry="4.8" fill="#3c3c3c" opacity="0.6"/>
<ellipse cx="465.5" cy="245.4" rx="3.8" ry="3.8" fill="url(#sM)"/>
<ellipse cx="485.3" cy="248.7" rx="5.8" ry="5.8" fill="#3c3c3c" opacity="0.6"/>
<ellipse cx="485.0" cy="248.3" rx="4.8" ry="4.8" fill="url(#sM)"/>
<ellipse cx="473.8" cy="253.5" rx="10.3" ry="10.3" fill="#3c3c3c" opacity="0.6"/>
<ellipse cx="473.5" cy="253.1" rx="9.3" ry="9.3" fill="url(#sM)"/>
<ellipse cx="489.2" cy="259.3" rx="3.8" ry="6.6" fill="#3c3c3c" opacity="0.6" transform="rotate(22 488.9 258.9)"/>
<ellipse cx="488.9" cy="258.9" rx="2.8" ry="5.6" fill="url(#sB)" transform="rotate(22 488.9 258.9)"/>
<ellipse cx="470.7" cy="268.6" rx="8.4" ry="8.4" fill="#3c3c3c" opacity="0.6"/>
<ellipse cx="470.4" cy="268.2" rx="7.4" ry="7.4" fill="url(#sM)"/>
<path d="M457 283L470 280.5L475 275L478 281L468 286Z" fill="#c4c4c4"/>
<path d="M472 275L474 284" stroke="#bdbdbd" stroke-width="0.9"/>
<path d="M486 272L491 285" stroke="#959595" stroke-width="0.8"/>
</g>
<line x1="511.5" y1="267.4" x2="523.4" y2="267.4" stroke="#f6f6f6" stroke-width="1.5"/>
<text x="517.5" y="274.2" font-size="6.4" text-anchor="middle" style="fill:#f2f2f2" textLength="11.5" lengthAdjust="spacingAndGlyphs">2µm</text>
<text class="b" x="422.4" y="196.6" font-size="11.6" style="fill:#fff">b</text>
</g>
<g clip-path="url(#cC)">
<rect x="295.2" y="287.5" width="121.40000000000003" height="105.10000000000002" fill="#222"/>
<g filter="url(#soft)">
<rect x="290" y="284" width="132" height="114" fill="url(#bgC)"/>
<path d="M376 284H422V294L388 314L378.6 297Z" fill="#a0a0a0"/>
<path d="M392 284H422V290L396 300Z" fill="#8e8e8e"/>
<path d="M352 294L361.4 289.7L376.7 289.7L378.8 297L367.5 304.6L352 308Z" fill="#303030"/>
<ellipse cx="347.5" cy="297.0" rx="6.0" ry="8.6" fill="url(#cG)"/>
<path d="M308.4 287L309.5 304.8Q315 309.6 321.6 309.2Q328 308.6 332.7 306.4Q339 303.5 342.6 299.3Q345 295 343.7 290.4L342 287Z" fill="url(#swg)"/>
<path d="M306.2 298.4Q312 301.2 318.3 300.6Q326 299.6 331.6 295.4Q335 292.6 336.5 289.5" stroke="#cfcfcf" stroke-width="1.5" fill="none"/>
<path d="M306.2 297.6Q312 300.2 318.3 299.6Q326 298.6 331.6 294.4Q335 291.6 336.5 288.5" stroke="#5a5a5a" stroke-width="0.7" fill="none"/>
<ellipse cx="320.4" cy="311.4" rx="6.2" ry="5.0" fill="url(#cM)"/>
<ellipse cx="333.8" cy="312.5" rx="8.0" ry="8.0" fill="url(#cG)"/>
<ellipse cx="348.4" cy="315.2" rx="10.0" ry="10.0" fill="url(#cG)"/>
<ellipse cx="360.0" cy="314.3" rx="6.6" ry="8.6" fill="url(#cG)"/>
<ellipse cx="377.3" cy="308.0" rx="11.0" ry="8.4" fill="url(#cL)" transform="rotate(-20 377.3 308.0)"/>
<ellipse cx="406.0" cy="311.0" rx="10.5" ry="9.0" fill="url(#cL)"/>
<ellipse cx="410.0" cy="326.0" rx="8.0" ry="9.0" fill="url(#cM)"/>
<ellipse cx="398.0" cy="328.0" rx="7.0" ry="7.0" fill="url(#cM)"/>
<ellipse cx="404.5" cy="318.0" rx="1.5" ry="1.5" fill="#1d1d1d"/>
<ellipse cx="409.5" cy="323.0" rx="1.3" ry="1.3" fill="#1d1d1d"/>
<ellipse cx="401.0" cy="324.5" rx="1.1" ry="1.1" fill="#1d1d1d"/>
<ellipse cx="411.0" cy="331.0" rx="1.0" ry="1.0" fill="#1d1d1d"/>
<path d="M364.0 324.8L410.6 296.4L413.8 300.8L368.0 331.2Z" fill="#b8b8b8"/>
<path d="M366 327.5L411.5 299" stroke="#8a8a8a" stroke-width="1.0"/>
<ellipse cx="373.6" cy="329.4" rx="9.2" ry="9.2" fill="url(#cL)"/>
<ellipse cx="380.0" cy="341.0" rx="6.0" ry="7.0" fill="url(#cM)"/>
<ellipse cx="325.8" cy="329.8" rx="12.4" ry="11.2" fill="url(#cL)"/>
<ellipse cx="342.0" cy="326.4" rx="6.6" ry="5.0" fill="url(#cL)"/>
<ellipse cx="321.6" cy="328.4" rx="3.1" ry="2.7" fill="#2a2a2a"/>
<ellipse cx="353.7" cy="340.6" rx="12.4" ry="12.0" fill="url(#cL)"/>
<ellipse cx="366.0" cy="349.0" rx="5.0" ry="5.0" fill="url(#cM)"/>
<ellipse cx="336.4" cy="356.3" rx="8.6" ry="9.4" fill="url(#cL)"/>
<ellipse cx="334.6" cy="357.4" rx="2.5" ry="2.1" fill="#2a2a2a"/>
<ellipse cx="348.4" cy="373.5" rx="9.8" ry="9.8" fill="url(#cL)"/>
<ellipse cx="353.6" cy="379.0" rx="2.4" ry="1.9" fill="#2a2a2a"/>
<ellipse cx="332.5" cy="377.5" rx="6.6" ry="6.6" fill="url(#cL)"/>
<ellipse cx="315.2" cy="382.8" rx="10.6" ry="10.6" fill="url(#cL)"/>
<ellipse cx="300.2" cy="352.0" rx="5.6" ry="7.5" fill="url(#cM)"/>
<ellipse cx="302.6" cy="367.0" rx="6.6" ry="8.0" fill="url(#cM)"/>
<ellipse cx="299.0" cy="382.0" rx="5.0" ry="8.0" fill="url(#cM)"/>
<ellipse cx="341.0" cy="389.0" rx="8.0" ry="4.0" fill="url(#cM)"/>
</g>
<line x1="393.9" y1="380.5" x2="404.5" y2="380.5" stroke="#f6f6f6" stroke-width="1.5"/>
<text x="399.2" y="387.4" font-size="6.6" text-anchor="middle" style="fill:#f2f2f2" textLength="10.3" lengthAdjust="spacingAndGlyphs">2µm</text>
<text class="b" x="302.8" y="301.7" font-size="11.6" style="fill:#fff">c</text>
</g>
<g clip-path="url(#cD)">
<rect x="414.6" y="287.5" width="121.69999999999993" height="105.10000000000002" fill="#7a7a7a"/>
<g filter="url(#soft)">
<rect x="410" y="284" width="132" height="114" fill="url(#bgD)"/>
<path d="M517 346.2Q522 348.5 523.1 354.3Q523 359 520.6 363Q518 369.5 514.3 373.2Q510.5 374.6 507.6 372.4L502.8 369.2Q502.4 365.5 503.8 361.6Q505.6 356.5 508.6 352.6Q512.4 347.6 517 346.2Z" fill="#8d8d8d" stroke="#5e5e5e" stroke-width="0.7"/>
<path d="M511 349.8Q514.5 347 517.4 347Q521.6 349.4 522.2 354.4" stroke="#b4b4b4" stroke-width="1.1" fill="none"/>
<ellipse cx="515.0" cy="356.4" rx="0.9" ry="1.9" fill="#f6f6f6" transform="rotate(12 515 356.4)"/>
<path d="M499.6 360L503.6 362.6" stroke="#a0a0a0" stroke-width="1.4"/>
<ellipse cx="435.6" cy="306.3" rx="6.8" ry="6.8" fill="#3c3c3c" opacity="0.6"/>
<ellipse cx="435.3" cy="305.9" rx="5.8" ry="5.8" fill="url(#sL)"/>
<ellipse cx="448.9" cy="308.9" rx="9.0" ry="9.0" fill="#3c3c3c" opacity="0.6"/>
<ellipse cx="448.6" cy="308.5" rx="8.0" ry="8.0" fill="url(#sL)"/>
<ellipse cx="436.2" cy="320.9" rx="5.5" ry="5.5" fill="#3c3c3c" opacity="0.6"/>
<ellipse cx="435.9" cy="320.5" rx="4.5" ry="4.5" fill="url(#sL)"/>
<ellipse cx="460.8" cy="332.8" rx="4.4" ry="5.2" fill="#3c3c3c" opacity="0.6"/>
<ellipse cx="460.5" cy="332.4" rx="3.4" ry="4.2" fill="url(#sM)"/>
<ellipse cx="449.4" cy="332.0" rx="9.0" ry="9.0" fill="#3c3c3c" opacity="0.6"/>
<ellipse cx="449.1" cy="331.6" rx="8.0" ry="8.0" fill="url(#sL)"/>
<ellipse cx="431.4" cy="335.5" rx="7.6" ry="7.6" fill="#3c3c3c" opacity="0.6"/>
<ellipse cx="431.1" cy="335.1" rx="6.6" ry="6.6" fill="url(#sL)"/>
<ellipse cx="438.3" cy="340.0" rx="4.5" ry="4.5" fill="#3c3c3c" opacity="0.6"/>
<ellipse cx="438.0" cy="339.6" rx="3.5" ry="3.5" fill="url(#sL)"/>
<ellipse cx="446.3" cy="346.9" rx="9.0" ry="9.0" fill="#3c3c3c" opacity="0.6"/>
<ellipse cx="446.0" cy="346.5" rx="8.0" ry="8.0" fill="url(#sL)"/>
<ellipse cx="507.8" cy="296.5" rx="11.0" ry="11.0" fill="#3c3c3c" opacity="0.6"/>
<ellipse cx="507.5" cy="296.1" rx="10.0" ry="10.0" fill="url(#sL)"/>
<ellipse cx="524.5" cy="302.9" rx="8.7" ry="8.7" fill="#3c3c3c" opacity="0.6"/>
<ellipse cx="524.2" cy="302.5" rx="7.7" ry="7.7" fill="url(#sL)"/>
<ellipse cx="491.9" cy="306.3" rx="10.8" ry="10.8" fill="#3c3c3c" opacity="0.6"/>
<ellipse cx="491.6" cy="305.9" rx="9.8" ry="9.8" fill="url(#sL)"/>
<ellipse cx="484.4" cy="320.9" rx="8.4" ry="8.4" fill="#3c3c3c" opacity="0.6"/>
<ellipse cx="484.1" cy="320.5" rx="7.4" ry="7.4" fill="url(#sL)"/>
<ellipse cx="504.3" cy="318.7" rx="7.4" ry="7.4" fill="#3c3c3c" opacity="0.6"/>
<ellipse cx="504.0" cy="318.3" rx="6.4" ry="6.4" fill="url(#sL)"/>
<ellipse cx="497.7" cy="328.8" rx="8.2" ry="9.0" fill="#3c3c3c" opacity="0.6"/>
<ellipse cx="497.4" cy="328.4" rx="7.2" ry="8.0" fill="url(#sL)"/>
<ellipse cx="495.7" cy="357.4" rx="6.7" ry="6.7" fill="#3c3c3c" opacity="0.6"/>
<ellipse cx="495.4" cy="357.0" rx="5.7" ry="5.7" fill="url(#sL)"/>
<ellipse cx="529.5" cy="380.5" rx="7.8" ry="7.8" fill="#3c3c3c" opacity="0.6"/>
<ellipse cx="529.2" cy="380.1" rx="6.8" ry="6.8" fill="url(#sL)"/>
<ellipse cx="488.6" cy="308.4" rx="0.9" ry="0.9" fill="#1d1d1d"/>
<ellipse cx="502.4" cy="321.0" rx="0.8" ry="0.8" fill="#1d1d1d"/>
<ellipse cx="516.8" cy="294.6" rx="0.9" ry="0.9" fill="#1d1d1d"/>
</g>
<line x1="503.6" y1="380.9" x2="511.8" y2="380.9" stroke="#f6f6f6" stroke-width="1.4"/>
<text x="507.7" y="386.2" font-size="4.4" text-anchor="middle" style="fill:#f2f2f2" textLength="8.0" lengthAdjust="spacingAndGlyphs">2µm</text>
<text class="b" x="422.9" y="300.4" font-size="11.6" style="fill:#fff">d</text>
</g>
</g>
</svg></body></html>
